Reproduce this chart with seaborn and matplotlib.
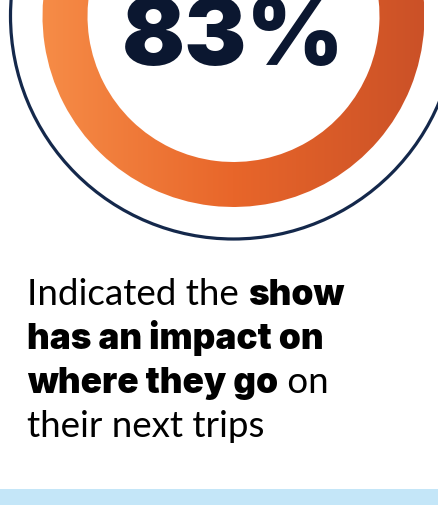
import matplotlib.pyplot as plt
import seaborn as sns
from matplotlib import font_manager as fm
from matplotlib.patches import Wedge, Circle, Rectangle
from matplotlib.colors import LinearSegmentedColormap
import numpy as np

# data
share_pct = 83
stat_label = "83%"
caption_lines = [
    [("Indicated the ", "normal"), ("show", "black")],
    [("has an impact on", "black")],
    [("where they go", "black"), (" on", "normal")],
    [("their next trips", "normal")],
]

ring_colors = ["#F68C47", "#E8662A", "#CB5127"]
navy = "#14284B"
ink = "#0B1730"
band_color = "#C4E6F8"

sns.set_theme(style="white")
plt.rcParams['font.family'] = ['Lato', 'DejaVu Sans']


def font_file(name, weight, size):
    for f in fm.fontManager.ttflist:
        if f.name == name and f.weight == weight and f.style == 'normal':
            return fm.FontProperties(fname=f.fname, size=size)
    return fm.FontProperties(family=name, weight=weight, size=size)


props = {"normal": font_file('Lato', 400, 26.5),
         "black": font_file('Inter', 900, 25.3)}
big_font = font_file('Inter', 900, 67)

W, H = 439, 506
fig = plt.figure(figsize=(W / 100, H / 100), dpi=100)
ax = fig.add_axes([0, 0, 1, 1])
ax.axis('off')

cx, cy = 233.5, 17
r_out, r_in, r_line = 191, 146, 223

# outer navy outline
ax.add_patch(Circle((cx, cy), r_line, fill=False, edgecolor=navy, lw=2.3))

# gradient ring, arc length from the share
span = share_pct / 100 * 360
wedge = Wedge((cx, cy), r_out, -90, -90 + span, width=r_out - r_in,
              facecolor='none', edgecolor='none')
ax.add_patch(wedge)
cmap = LinearSegmentedColormap.from_list("ring", ring_colors)
grad = np.linspace(0, 1, 256).reshape(1, -1)
im = ax.imshow(grad, cmap=cmap, aspect='auto',
               extent=(cx - r_out, cx + r_out, cy + r_out, cy - r_out))
im.set_clip_path(wedge)
ax.set_xlim(0, W)
ax.set_ylim(H, 0)

# big number
ax.text(cx, 65, stat_label, ha='center', va='baseline',
        fontproperties=big_font, color=ink)

# caption with mixed weights
x0 = 27
baselines = [305, 349, 393, 437]
renderer = fig.canvas.get_renderer()
for parts, yb in zip(caption_lines, baselines):
    x = x0
    for txt, wt in parts:
        t = ax.text(x, yb, txt, ha='left', va='baseline',
                    fontproperties=props[wt], color='black')
        bb = t.get_window_extent(renderer=renderer)
        x += bb.width

# bottom band
ax.add_patch(Rectangle((0, 490), W, H - 490, facecolor=band_color,
                       edgecolor='none'))

fig.savefig("out.png", dpi=100)
